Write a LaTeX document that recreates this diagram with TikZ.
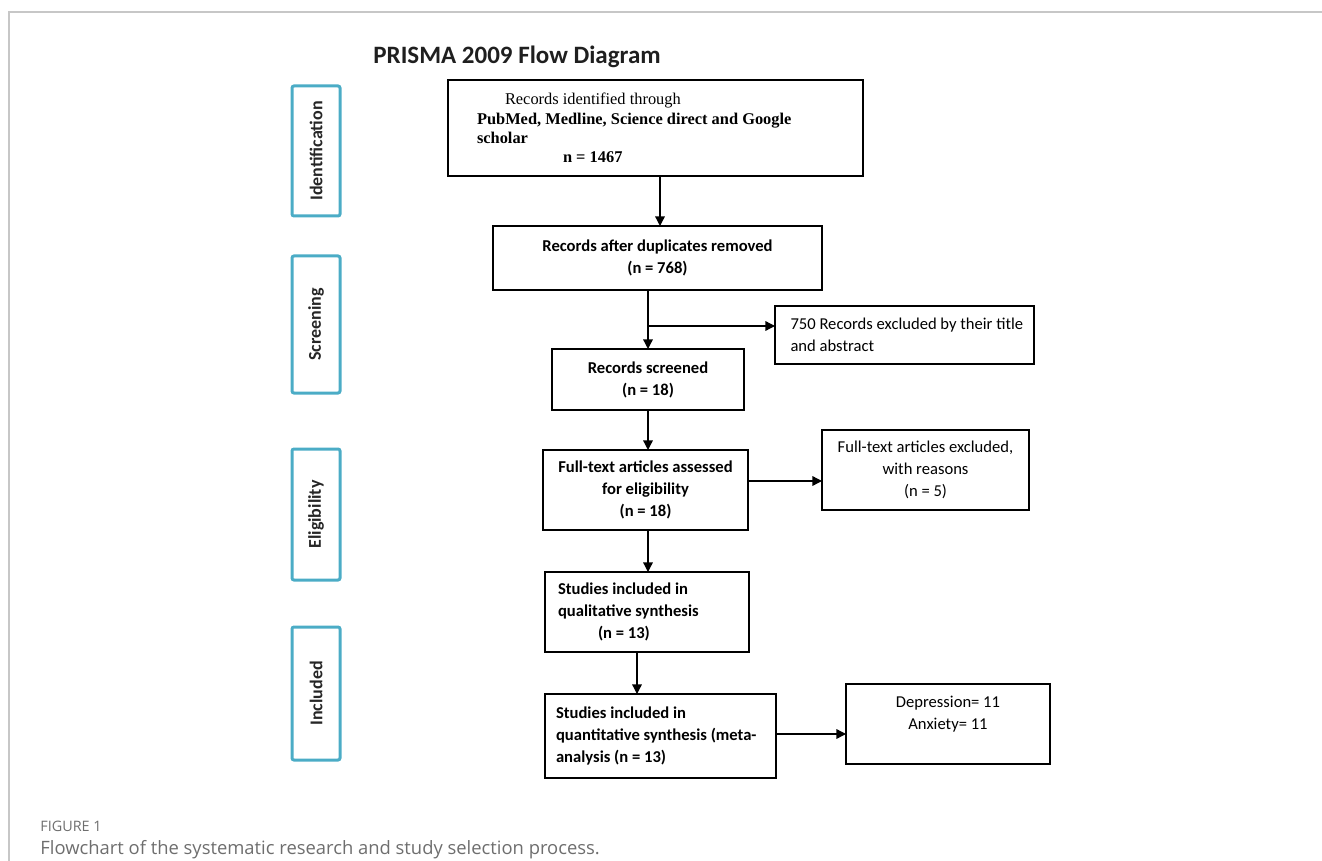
\documentclass[tikz,border=0pt]{standalone}
\usepackage{fontspec}
\setmainfont{Carlito}
\newfontfamily\timesf{Liberation Serif}
\newfontfamily\capf{Open Sans}
\usetikzlibrary{arrows.meta}
\definecolor{teal1}{HTML}{4BACC6}
\definecolor{capgray}{HTML}{6E6E6E}
\begin{document}
\begin{tikzpicture}[x=0.5pt,y=-0.5pt,
  box/.style={draw, line width=0.7pt, inner sep=0pt, outer sep=0pt, align=center,
    font=\bfseries\fontsize{8.3}{11}\selectfont},
  plainbox/.style={box, font=\fontsize{8.3}{11}\selectfont},
  side/.style={draw=teal1, line width=1.5pt, rounded corners=1pt, rotate=90,
    minimum height=24pt, inner sep=0pt, text=black!85,
    font=\bfseries\fontsize{9}{11}\selectfont},
  arr/.style={-{Triangle[length=4.8pt,width=4.8pt]}, line width=0.65pt}]
\useasboundingbox (0,0) rectangle (1322,861);
\draw[black!22, line width=1pt] (9,861) -- (9,12) -- (1322,12);

\node[anchor=west, inner sep=0pt, font=\bfseries\fontsize{12.5}{14}\selectfont, text=black!88] (title) at (373,57) {PRISMA 2009 Flow Diagram};

\node[side, minimum width=65pt] (s1) at (316,151) {Identification};
\node[side, minimum width=68.5pt] (s2) at (316,324.5) {Screening};
\node[side, minimum width=65.5pt] (s3) at (316,514.5) {Eligibility};
\node[side, minimum width=66.5pt] (s4) at (316,693.5) {Included};

\node[box, align=flush left, text width=178.5pt, inner xsep=14.5pt, minimum height=48pt,
  font=\timesf\bfseries\fontsize{8.2}{9.6}\selectfont] (top) at (655.5,128)
  {\hspace*{14pt}{\mdseries Records identified through}\\
   PubMed, Medline, Science direct and Google\\
   scholar\\
   \hspace*{43pt}n = 1467};

\node[box, minimum width=164.5pt, minimum height=32pt] (box2) at (657.5,258)
  {Records after duplicates removed\\(n = 768)};

\node[plainbox, align=flush left, text width=122pt, inner xsep=3.75pt, minimum height=29pt] (excl1) at (904.5,335)
  {\hspace*{4pt}750 Records excluded by their title\\\hspace*{4pt}and abstract};

\node[box, minimum width=96pt, minimum height=30.5pt] (box3) at (648,379.5)
  {Records screened\\(n = 18)};

\node[box, minimum width=102.5pt, minimum height=40pt] (box4) at (645.5,490)
  {Full-text articles assessed\\for eligibility\\(n = 18)};

\node[plainbox, minimum width=103.5pt, minimum height=40pt] (excl2) at (925.5,470)
  {Full-text articles excluded,\\with reasons\\(n = 5)};

\node[box, align=flush left, text width=89pt, inner xsep=6.5pt, minimum height=40pt] (box5) at (647,612)
  {Studies included in\\qualitative synthesis\\\hspace*{20pt}(n = 13)};

\node[box, align=flush left, text width=104.5pt, inner xsep=5.5pt, minimum height=42pt] (box6) at (660.5,736)
  {Studies included in\\quantitative synthesis (meta-\\analysis (n = 13)};

\node[plainbox, minimum width=102pt, minimum height=40pt] (box7) at (948,724)
  {Depression= 11\\Anxiety= 11\\\mbox{}};

\coordinate (c1) at (660,0);
\coordinate (c2) at (648,0);
\coordinate (c3) at (637,0);
\coordinate (b1) at (648,326);
\coordinate (b2) at (0,481);
\coordinate (b3) at (0,734);

\draw[arr] (top.south -| c1) -- (box2.north -| c1);
\draw[arr] (box2.south -| c2) -- (box3.north -| c2);
\draw[arr] (b1) -- (b1 -| excl1.west);
\draw[arr] (box3.south -| c2) -- (box4.north -| c2);
\draw[arr] (box4.east |- b2) -- (excl2.west |- b2);
\draw[arr] (box4.south -| c2) -- (box5.north -| c2);
\draw[arr] (box5.south -| c3) -- (box6.north -| c3);
\draw[arr] (box6.east |- b3) -- (box7.west |- b3);

\node[anchor=west, inner sep=0pt, font=\capf\fontsize{7.2}{8}\selectfont, text=capgray] (fig) at (40,826) {FIGURE 1};
\node[anchor=west, inner sep=0pt, font=\capf\fontsize{9.2}{11}\selectfont, text=capgray] (cap) at (40,850)
  {Flowchart of the systematic research and study selection process.};
\end{tikzpicture}
\end{document}
